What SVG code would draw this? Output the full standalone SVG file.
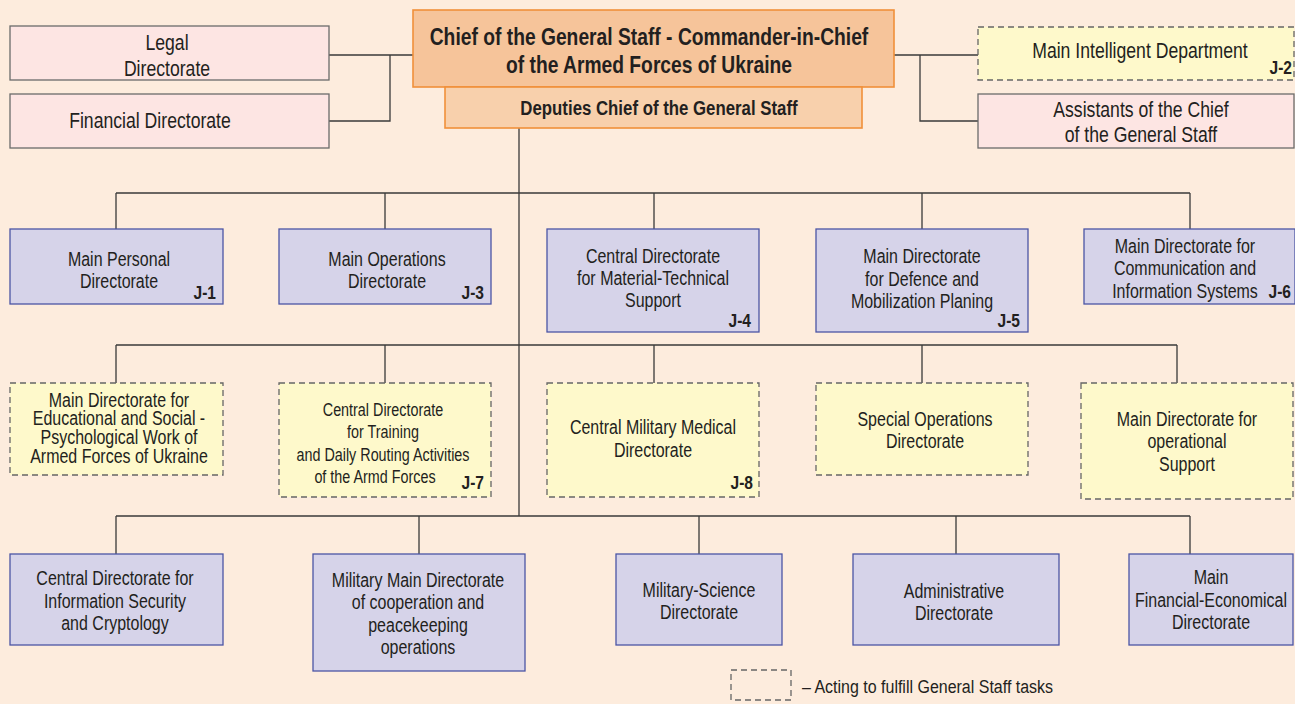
<svg xmlns="http://www.w3.org/2000/svg" width="1295" height="704" viewBox="0 0 1295 704">
<style>
text{font-family:"Liberation Sans","Arial",sans-serif;fill:#231f20;text-anchor:middle}
.t21{font-size:21.5px}
.t19{font-size:19.5px}
.t175{font-size:17.5px}
.b{font-weight:bold}
.j{font-weight:bold;font-size:19px;text-anchor:end}
.pink{fill:#fde5e3;stroke:#6b6b6b;stroke-width:1.3}
.lav{fill:#d6d3e9;stroke:#4c55a5;stroke-width:1.3}
.yel{fill:#fef9cb;stroke:#666;stroke-width:1.3;stroke-dasharray:6 4}
.chief{fill:#f6c49a;stroke:#f0903a;stroke-width:1.6}
.dep{fill:#f8d0ac;stroke:#f0903a;stroke-width:1.6}
.con{fill:none;stroke:#3a3a3a;stroke-width:1.3}
</style>
<rect width="1295" height="704" fill="#fdecdd"/>

<g id="connectors" class="con">
<path d="M329,55H413M390,55V121H329"/>
<path d="M894,55H978M920,55V121H978"/>
<path d="M519,128V516"/>
<path d="M116,193H1190M116,193V229M385,193V229M654,193V229M922,193V229M1190,193V229"/>
<path d="M116,345H1177M116,345V383M385,345V383M654,345V383M922,345V383M1177,345V383"/>
<path d="M116,516H1190M116,516V554M419,516V554M699,516V554M956,516V554M1190,516V554"/>
</g>

<g id="legal">
<rect class="pink" x="10" y="26" width="319" height="54"/>
<text class="t21" x="167" y="50" transform="matrix(0.82 0 0 1 30.06 0)">Legal</text>
<text class="t21" x="167" y="76" transform="matrix(0.82 0 0 1 30.06 0)">Directorate</text>
</g>
<g id="financial">
<rect class="pink" x="10" y="94" width="319" height="54"/>
<text class="t21" x="150" y="128" transform="matrix(0.82 0 0 1 27 0)">Financial Directorate</text>
</g>

<g id="chief">
<rect class="chief" x="413" y="10" width="481" height="77"/>
<text class="b" style="font-size:23.5px" x="649" y="45" transform="matrix(0.82 0 0 1 116.82 0)">Chief of the General Staff - Commander-in-Chief</text>
<text class="b" style="font-size:23.5px" x="649" y="73" transform="matrix(0.82 0 0 1 116.82 0)">of the Armed Forces of Ukraine</text>
</g>
<g id="deputies">
<rect class="dep" x="445" y="87" width="417" height="41"/>
<text class="b" style="font-size:20.5px" x="659" y="115" transform="matrix(0.82 0 0 1 118.62 0)">Deputies Chief of the General Staff</text>
</g>

<g id="intelligence">
<rect class="yel" x="978" y="27" width="316" height="53"/>
<text class="t21" x="1140" y="58" transform="matrix(0.82 0 0 1 205.2 0)">Main Intelligent Department</text>
<text class="j" x="1292" y="74" transform="matrix(0.82 0 0 1 232.56 0)">J-2</text>
</g>
<g id="assistants">
<rect class="pink" x="978" y="94" width="316" height="54"/>
<text class="t21" x="1141" y="117" transform="matrix(0.82 0 0 1 205.38 0)">Assistants of the Chief</text>
<text class="t21" x="1141" y="142" transform="matrix(0.82 0 0 1 205.38 0)">of the General Staff</text>
</g>

<g id="j1">
<rect class="lav" x="10" y="229" width="213" height="75"/>
<text class="t19" x="119" y="266" transform="matrix(0.82 0 0 1 21.42 0)">Main Personal</text>
<text class="t19" x="119" y="288" transform="matrix(0.82 0 0 1 21.42 0)">Directorate</text>
<text class="j" x="216" y="299" transform="matrix(0.82 0 0 1 38.88 0)">J-1</text>
</g>
<g id="j3">
<rect class="lav" x="279" y="229" width="212" height="75"/>
<text class="t19" x="387" y="266" transform="matrix(0.82 0 0 1 69.66 0)">Main Operations</text>
<text class="t19" x="387" y="288" transform="matrix(0.82 0 0 1 69.66 0)">Directorate</text>
<text class="j" x="484" y="299" transform="matrix(0.82 0 0 1 87.12 0)">J-3</text>
</g>
<g id="j4">
<rect class="lav" x="547" y="229" width="212" height="103"/>
<text class="t19" x="653" y="263" transform="matrix(0.82 0 0 1 117.54 0)">Central Directorate</text>
<text class="t19" x="653" y="285" transform="matrix(0.82 0 0 1 117.54 0)">for Material-Technical</text>
<text class="t19" x="653" y="307" transform="matrix(0.82 0 0 1 117.54 0)">Support</text>
<text class="j" x="751" y="327" transform="matrix(0.82 0 0 1 135.18 0)">J-4</text>
</g>
<g id="j5">
<rect class="lav" x="816" y="229" width="212" height="103"/>
<text class="t19" x="922" y="263" transform="matrix(0.82 0 0 1 165.96 0)">Main Directorate</text>
<text class="t19" x="922" y="286" transform="matrix(0.82 0 0 1 165.96 0)">for Defence and</text>
<text class="t19" x="922" y="308" transform="matrix(0.82 0 0 1 165.96 0)">Mobilization Planing</text>
<text class="j" x="1020" y="327" transform="matrix(0.82 0 0 1 183.6 0)">J-5</text>
</g>
<g id="j6">
<rect class="lav" x="1084" y="229" width="211" height="75"/>
<text class="t19" x="1185" y="253" transform="matrix(0.82 0 0 1 213.3 0)">Main Directorate for</text>
<text class="t19" x="1185" y="275" transform="matrix(0.82 0 0 1 213.3 0)">Communication and</text>
<text class="t19" x="1185" y="298" transform="matrix(0.82 0 0 1 213.3 0)">Information Systems</text>
<text class="j" x="1291" y="298" transform="matrix(0.82 0 0 1 232.38 0)">J-6</text>
</g>

<g id="educational">
<rect class="yel" x="10" y="383" width="213" height="92"/>
<text class="t19" x="119" y="407" transform="matrix(0.82 0 0 1 21.42 0)">Main Directorate for</text>
<text class="t19" x="119" y="425.5" transform="matrix(0.82 0 0 1 21.42 0)">Educational and Social -</text>
<text class="t19" x="119" y="444" transform="matrix(0.82 0 0 1 21.42 0)">Psychological Work of</text>
<text class="t19" x="119" y="463" transform="matrix(0.82 0 0 1 21.42 0)">Armed Forces of Ukraine</text>
</g>
<g id="j7">
<rect class="yel" x="279" y="383" width="212" height="114"/>
<text class="t175" x="383" y="416" transform="matrix(0.82 0 0 1 68.94 0)">Central Directorate</text>
<text class="t175" x="383" y="438" transform="matrix(0.82 0 0 1 68.94 0)">for Training</text>
<text class="t175" x="383" y="461" transform="matrix(0.82 0 0 1 68.94 0)">and Daily Routing Activities</text>
<text class="t175" x="375" y="483" transform="matrix(0.82 0 0 1 67.5 0)">of the Armd Forces</text>
<text class="j" x="484" y="489" transform="matrix(0.82 0 0 1 87.12 0)">J-7</text>
</g>
<g id="j8">
<rect class="yel" x="547" y="383" width="212" height="114"/>
<text class="t19" x="653" y="434" transform="matrix(0.82 0 0 1 117.54 0)">Central Military Medical</text>
<text class="t19" x="653" y="457" transform="matrix(0.82 0 0 1 117.54 0)">Directorate</text>
<text class="j" x="753" y="489" transform="matrix(0.82 0 0 1 135.54 0)">J-8</text>
</g>
<g id="specialops">
<rect class="yel" x="816" y="383" width="212" height="92"/>
<text class="t19" x="925" y="426" transform="matrix(0.82 0 0 1 166.5 0)">Special Operations</text>
<text class="t19" x="925" y="448" transform="matrix(0.82 0 0 1 166.5 0)">Directorate</text>
</g>
<g id="opsupport">
<rect class="yel" x="1081" y="383" width="212" height="116"/>
<text class="t19" x="1187" y="426" transform="matrix(0.82 0 0 1 213.66 0)">Main Directorate for</text>
<text class="t19" x="1187" y="448" transform="matrix(0.82 0 0 1 213.66 0)">operational</text>
<text class="t19" x="1187" y="471" transform="matrix(0.82 0 0 1 213.66 0)">Support</text>
</g>

<g id="infosec">
<rect class="lav" x="10" y="554" width="213" height="91"/>
<text class="t19" x="115" y="585" transform="matrix(0.82 0 0 1 20.7 0)">Central Directorate for</text>
<text class="t19" x="115" y="608" transform="matrix(0.82 0 0 1 20.7 0)">Information Security</text>
<text class="t19" x="115" y="630" transform="matrix(0.82 0 0 1 20.7 0)">and Cryptology</text>
</g>
<g id="cooperation">
<rect class="lav" x="313" y="554" width="212" height="117"/>
<text class="t19" x="418" y="587" transform="matrix(0.82 0 0 1 75.24 0)">Military Main Directorate</text>
<text class="t19" x="418" y="609" transform="matrix(0.82 0 0 1 75.24 0)">of cooperation and</text>
<text class="t19" x="418" y="632" transform="matrix(0.82 0 0 1 75.24 0)">peacekeeping</text>
<text class="t19" x="418" y="654" transform="matrix(0.82 0 0 1 75.24 0)">operations</text>
</g>
<g id="science">
<rect class="lav" x="616" y="554" width="166" height="91"/>
<text class="t19" x="699" y="597" transform="matrix(0.82 0 0 1 125.82 0)">Military-Science</text>
<text class="t19" x="699" y="619" transform="matrix(0.82 0 0 1 125.82 0)">Directorate</text>
</g>
<g id="administrative">
<rect class="lav" x="853" y="554" width="206" height="91"/>
<text class="t19" x="954" y="598" transform="matrix(0.82 0 0 1 171.72 0)">Administrative</text>
<text class="t19" x="954" y="620" transform="matrix(0.82 0 0 1 171.72 0)">Directorate</text>
</g>
<g id="fineco">
<rect class="lav" x="1129" y="554" width="164" height="91"/>
<text class="t19" x="1211" y="584" transform="matrix(0.82 0 0 1 217.98 0)">Main</text>
<text class="t19" x="1211" y="607" transform="matrix(0.82 0 0 1 217.98 0)">Financial-Economical</text>
<text class="t19" x="1211" y="629" transform="matrix(0.82 0 0 1 217.98 0)">Directorate</text>
</g>

<g id="legend">
<rect class="yel" x="731" y="670" width="60" height="30" style="fill:none"/>
<text style="font-size:18.6px;text-anchor:start" x="802" y="693" transform="matrix(0.86 0 0 1 112.28 0)">– Acting to fulfill General Staff tasks</text>
</g>
</svg>
